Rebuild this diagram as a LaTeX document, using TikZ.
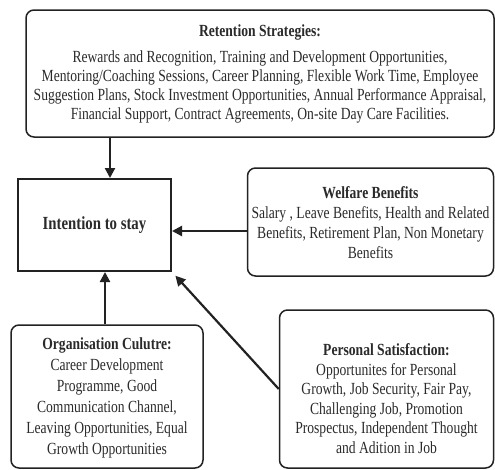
\documentclass[tikz,border=0pt]{standalone}
\usepackage{fontspec}
\setmainfont{Liberation Serif}[FakeStretch=0.8]
\usetikzlibrary{arrows.meta,calc}
\definecolor{ink}{HTML}{222222}
\definecolor{txt}{HTML}{2a2a2a}
\tikzset{
  boxr/.style={draw=ink, line width=1.5pt, rounded corners=8pt, minimum width=#1, inner sep=0pt},
  lbl/.style={align=center, text=txt, font=\fontsize{17}{19}\selectfont, inner sep=0pt},
  arr/.style={draw=ink, line width=2.2pt, -{Triangle[length=10pt,width=10pt]}},
}
\begin{document}
\begin{tikzpicture}[x=1pt,y=-1pt]
\useasboundingbox (0,0) rectangle (495,469);
% boxes
\node[boxr=468pt, minimum height=127pt] (ret) at (260,73.5) {};
\node[draw=ink, line width=2pt, minimum width=153pt, minimum height=92pt, inner sep=0pt] (int) at (94.5,225) {};
\node[boxr=246pt, minimum height=108pt] (wel) at (370.5,222) {};
\node[boxr=192pt, minimum height=143pt] (org) at (107,396.5) {};
\node[boxr=214pt, minimum height=158pt] (per) at (386.5,389) {};
% labels
\node[lbl] (retl) at (260,74) {\textbf{Retention Strategies:}\\[7pt]
Rewards and Recognition, Training and Development Opportunities,\\
Mentoring/Coaching Sessions, Career Planning, Flexible Work Time, Employee\\
Suggestion Plans, Stock Investment Opportunities, Annual Performance Appraisal,\\
Financial Support, Contract Agreements, On-site Day Care Facilities.};
\node[lbl, font=\fontsize{18.5}{19}\selectfont\bfseries] (intl) at (94.5,225) {Intention to stay};
\node[lbl, font=\fontsize{17}{20}\selectfont] (well) at (370.5,223) {\textbf{Welfare Benefits}\\
Salary , Leave Benefits, Health and Related\\
Benefits, Retirement Plan, Non Monetary\\
Benefits};
\node[lbl, font=\fontsize{17}{21}\selectfont] (orgl) at (107,398) {\textbf{Organisation Culutre:}\\
Career Development\\
Programme, Good\\
Communication Channel,\\
Leaving Opportunities, Equal\\
Growth Opportunities};
\node[lbl, font=\fontsize{17}{19.5}\selectfont] (perl) at (386.5,398.5) {\textbf{Personal Satisfaction:}\\
Opportunites for Personal\\
Growth, Job Security, Fair Pay,\\
Challenging Job, Promotion\\
Prospectus, Independent Thought\\
and Adition in Job};
% connectors
\coordinate (intTop) at ([xshift=15.5pt]int.north);
\draw[arr] (ret.south -| intTop) -- (intTop);
\coordinate (welOut) at ([yshift=-9pt]wel.west);
\draw[arr] (welOut) -- (welOut -| int.east);
\coordinate (orgTop) at ([xshift=-2pt]org.north);
\draw[arr] (orgTop) -- (orgTop |- int.south);
\draw[arr, shorten >=5pt] (per.west) -- (int.south east);
\end{tikzpicture}
\end{document}
